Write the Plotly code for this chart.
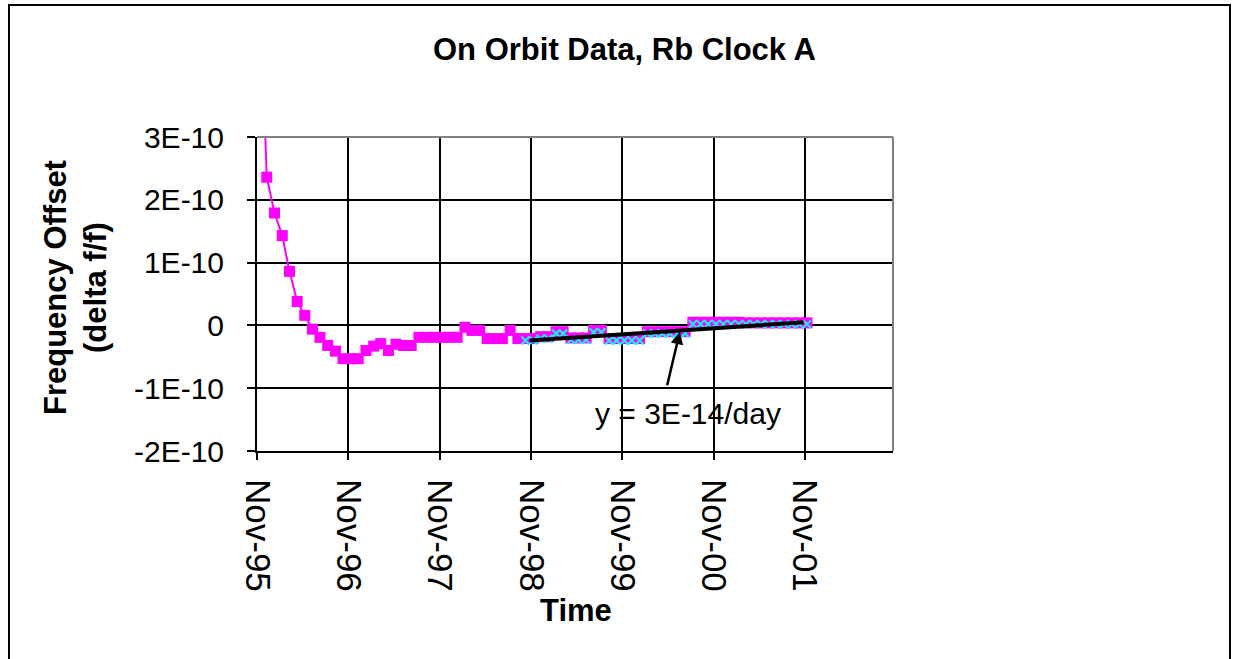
import numpy as np
import plotly.graph_objects as go

FONT = "Liberation Sans, Arial, sans-serif"

# monthly on-orbit frequency offsets, units of 1E-10
mag_dates = [
    "1995-11-21",
    "1995-12-10",
    "1996-01-10", "1996-02-10", "1996-03-10", "1996-04-10", "1996-05-10", "1996-06-10",
    "1996-07-10", "1996-08-10", "1996-09-10", "1996-10-10", "1996-11-10", "1996-12-10",
    "1997-01-10", "1997-02-10", "1997-03-10", "1997-04-10", "1997-05-10", "1997-06-10",
    "1997-07-10", "1997-08-10", "1997-09-10", "1997-10-10", "1997-11-10", "1997-12-10",
    "1998-01-10", "1998-02-10", "1998-03-10", "1998-04-10", "1998-05-10", "1998-06-10",
    "1998-07-10", "1998-08-10", "1998-09-10", "1998-10-10", "1998-11-10", "1998-12-10",
    "1999-01-10", "1999-02-10", "1999-03-10", "1999-04-10", "1999-05-10", "1999-06-10",
    "1999-07-10", "1999-08-10", "1999-09-10", "1999-10-10", "1999-11-10", "1999-12-10",
    "2000-01-10", "2000-02-10", "2000-03-10", "2000-04-10", "2000-05-10", "2000-06-10",
    "2000-07-10", "2000-08-10", "2000-09-10", "2000-10-10", "2000-11-10", "2000-12-10",
    "2001-01-10", "2001-02-10", "2001-03-10", "2001-04-10", "2001-05-10", "2001-06-10",
    "2001-07-10", "2001-08-10", "2001-09-10", "2001-10-10", "2001-11-10",
]
mag_vals = [
    4.5,
    2.36,
    1.79, 1.43, 0.86, 0.38, 0.16, -0.06,
    -0.19, -0.32, -0.41, -0.53, -0.53, -0.53,
    -0.40, -0.33, -0.29, -0.40, -0.30, -0.32,
    -0.32, -0.19, -0.19, -0.19, -0.19, -0.19,
    -0.19, -0.03, -0.08, -0.08, -0.21, -0.21,
    -0.21, -0.08, -0.21, -0.21, -0.21, -0.18,
    -0.18, -0.10, -0.10, -0.20, -0.20, -0.20,
    -0.08, -0.08, -0.21, -0.21, -0.21, -0.21,
    -0.21, -0.10, -0.10, -0.10, -0.10, -0.10,
    -0.10, 0.05, 0.05, 0.05, 0.05, 0.05,
    0.05, 0.05, 0.04, 0.04, 0.04, 0.04,
    0.04, 0.04, 0.04, 0.04, 0.04,
]

# later data used for the fit
cyan_dates = mag_dates[35:]
cyan_vals = [
    -0.24, -0.24, -0.21,
    -0.21, -0.13, -0.13, -0.23, -0.23, -0.23,
    -0.11, -0.11, -0.24, -0.24, -0.24, -0.24,
    -0.24, -0.13, -0.13, -0.13, -0.13, -0.13,
    -0.13, 0.02, 0.02, 0.02, 0.02, 0.02,
    0.02, 0.02, 0.02, 0.02, 0.02, 0.02,
    0.02, 0.02, 0.02, 0.02, 0.02,
]

fit_dates = ["1998-10-27", "2001-10-27"]
fit_vals = [-0.24, 0.05]

x_ticks = ["1995-11-01", "1996-11-01", "1997-11-01", "1998-11-01",
           "1999-11-01", "2000-11-01", "2001-11-01"]
x_labels = ["Nov-95", "Nov-96", "Nov-97", "Nov-98", "Nov-99", "Nov-00", "Nov-01"]
y_ticks = [-2, -1, 0, 1, 2, 3]
y_labels = ["-2E-10", "-1E-10", "0", "1E-10", "2E-10", "3E-10"]

scale = 1e-10

fig = go.Figure()

fig.add_trace(go.Scatter(
    x=mag_dates, y=np.array(mag_vals) * scale,
    mode="lines+markers",
    line=dict(color="#FF00FF", width=2),
    marker=dict(symbol="square", size=11, color="#FF00FF"),
))

fig.add_trace(go.Scatter(
    x=cyan_dates, y=np.array(cyan_vals) * scale,
    mode="markers",
    marker=dict(symbol="x-thin", size=8, line=dict(color="#00FFFF", width=2)),
))

fig.add_trace(go.Scatter(
    x=fit_dates, y=np.array(fit_vals) * scale,
    mode="lines",
    line=dict(color="black", width=4),
))

# plot area: x 257..893, y 137..451
L, R, T, B = 257, 893, 137, 451
W, H = 1235, 659


def px(x):
    return (x - L) / (R - L)


def py(y):
    return (B - y) / (B - T)


def label(text, x, y, size, angle=0):
    return dict(text=text, xref="paper", yref="paper", x=px(x), y=py(y),
                xanchor="center", yanchor="middle", textangle=angle,
                showarrow=False, font=dict(size=size))


fig.update_layout(
    width=W, height=H,
    margin=dict(l=L, r=W - R, t=T, b=H - B),
    paper_bgcolor="white", plot_bgcolor="white",
    showlegend=False,
    font=dict(family=FONT, color="black"),
    xaxis=dict(
        type="date",
        range=["1995-11-01", "2002-10-20"],
        tickvals=x_ticks, ticktext=x_labels,
        tickangle=90,
        tickfont=dict(size=35),
        ticklabelstandoff=12,
        showgrid=True, gridcolor="black", gridwidth=2,
        showline=True, linecolor="black", linewidth=2,
        ticks="outside", ticklen=7, tickwidth=2, tickcolor="black",
        zeroline=False,
    ),
    yaxis=dict(
        range=[-2 * scale, 3 * scale],
        tickvals=np.array(y_ticks) * scale, ticktext=y_labels,
        tickfont=dict(size=30),
        ticklabelstandoff=17,
        showgrid=True, gridcolor="black", gridwidth=2,
        showline=True, linecolor="black", linewidth=2,
        ticks="outside", ticklen=8, tickwidth=2, tickcolor="black",
        zeroline=False,
    ),
    shapes=[
        dict(type="line", xref="paper", yref="paper", x0=0, x1=1, y0=1, y1=1,
             line=dict(color="#808080", width=2)),
        dict(type="line", xref="paper", yref="paper", x0=1, x1=1, y0=0, y1=1,
             line=dict(color="#808080", width=2)),
        dict(type="rect", xref="paper", yref="paper",
             x0=px(9), x1=px(1230), y0=py(664), y1=py(5),
             line=dict(color="black", width=2)),
    ],
    annotations=[
        label("<b>On Orbit Data, Rb Clock A</b>", 624, 50, 31),
        label("<b>Frequency Offset<br>(delta f/f)</b>", 75, 288, 31, -90),
        label("<b>Time</b>", 576, 610, 31),
        dict(text="", x="2000-06-19", y=-0.1 * scale, showarrow=True,
             arrowhead=2, arrowsize=1, arrowwidth=2.5, arrowcolor="black",
             ax=-13, ay=55),
        dict(text="y = 3E-14/day", x="2000-07-21", y=-1.4 * scale,
             showarrow=False, font=dict(size=30)),
    ],
)

fig.write_html("out.html", config={"displayModeBar": False},
               post_script="document.body.style.margin='0';")
